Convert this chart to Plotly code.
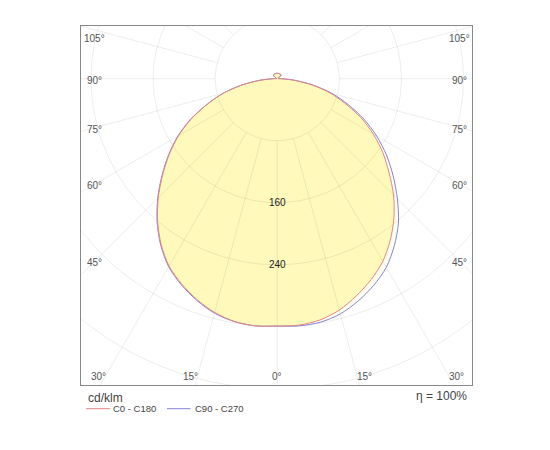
import numpy as np
import plotly.graph_objects as go

# luminous intensity distribution, cd/klm, gamma 0..180 in 5 degree steps
gamma = list(range(0, 185, 5))
c0 = [319, 319, 316, 309, 298, 286, 272, 254, 234, 212, 188, 166, 143, 119, 93, 70, 45, 22, 6,
      2, 1, 1, 1, 1, 2, 4, 6, 7, 7, 7, 7, 7, 7, 7, 7, 7, 7]
c180 = [319, 320, 318, 312, 303, 292, 279, 261, 240, 217, 193, 170, 147, 122, 96, 72, 46, 22, 6,
        2, 1, 1, 1, 1, 2, 4, 6, 7, 7, 7, 7, 7, 7, 7, 7, 7, 7]
c90 = [319, 320, 319, 314, 305, 294, 281, 263, 243, 219, 195, 172, 148, 123, 97, 73, 46, 22, 6,
       2, 1, 1, 1, 1, 2, 4, 6, 7, 7, 7, 7, 7, 7, 7, 7, 7, 7]
c270 = [319, 320, 318, 313, 304, 293, 280, 262, 241, 218, 194, 171, 148, 123, 96, 72, 46, 22, 6,
        2, 1, 1, 1, 1, 2, 4, 6, 7, 7, 7, 7, 7, 7, 7, 7, 7, 7]

grid_radii = [80, 160, 240, 320, 400, 480]
labelled_radii = [160, 240]
side_angles = [105, 90, 75, 60, 45]
bottom_angles = [-30, -15, 0, 15, 30]
efficiency = "η = 100%"
unit = "cd/klm"
series_names = ["C0 - C180", "C90 - C270"]

RED = "#E38787"
BLUE = "#8585D2"
FONT = "Liberation Sans, Arial, sans-serif"

X_RANGE = [-253, 251]
Y_RANGE = [-395, 68]


def plane_curve(right, left):
    """Right half from one C plane, left half from the opposite one (0 deg points down)."""
    g = np.radians(gamma)
    r_right = np.array(right, dtype=float)
    r_left = np.array(left, dtype=float)
    # right half going 0 -> 180, then left half going back 180 -> 0 (skip the shared 180 point)
    g_back = g[::-1][1:]
    r_back = r_left[::-1][1:]
    xs = np.concatenate([r_right * np.sin(g), -r_back * np.sin(g_back)])
    ys = np.concatenate([-r_right * np.cos(g), -r_back * np.cos(g_back)])
    return xs, ys


fig = go.Figure()

red_x, red_y = plane_curve(c0, c180)
blue_x, blue_y = plane_curve(c90, c270)
curve_line = dict(shape="spline", smoothing=0.8)

# fills first
fig.add_trace(go.Scatter(x=blue_x, y=blue_y, mode="lines", fill="toself", fillcolor="#FFFDEE",
                         line=dict(width=0, **curve_line), hoverinfo="skip", showlegend=False))
fig.add_trace(go.Scatter(x=red_x, y=red_y, mode="lines", fill="toself", fillcolor="#FFF9BC",
                         line=dict(width=0, **curve_line), hoverinfo="skip", showlegend=False))

# polar grid: circles, and spokes starting at the innermost circle
t = np.linspace(0, 2 * np.pi, 361)
gx, gy = [], []
for r in grid_radii:
    gx += list(r * np.cos(t)) + [None]
    gy += list(r * np.sin(t)) + [None]
inner = grid_radii[0]
for a in range(0, 360, 15):
    ang = np.radians(a)
    gx += [inner * np.sin(ang), 700 * np.sin(ang), None]
    gy += [-inner * np.cos(ang), -700 * np.cos(ang), None]
fig.add_trace(go.Scatter(x=gx, y=gy, mode="lines", line=dict(color="rgba(0,0,0,0.075)", width=1),
                         hoverinfo="skip", showlegend=False))

# curve outlines
fig.add_trace(go.Scatter(x=blue_x, y=blue_y, mode="lines", line=dict(color=BLUE, width=1, **curve_line),
                         name=series_names[1], showlegend=False))
fig.add_trace(go.Scatter(x=red_x, y=red_y, mode="lines", line=dict(color=RED, width=1, **curve_line),
                         name=series_names[0], showlegend=False))

ann = []
for r in labelled_radii:
    ann.append(dict(x=0, y=-r, text=str(r), showarrow=False, font=dict(size=10, color="#222", family=FONT)))

# angle labels on the left and right edges
label_x = 235
for a in side_angles:
    y = -label_x * np.cos(np.radians(a)) / np.sin(np.radians(a))
    y = min(y, 52)
    for side in (-1, 1):
        ann.append(dict(x=side * label_x, y=y, yshift=-2 if a != 105 else 0, text=f"{a}°", showarrow=False,
                        font=dict(size=10, color="#555", family=FONT)))

# angle labels along the bottom edge
label_y = -384
for a in bottom_angles:
    x = -label_y * np.tan(np.radians(a))
    x = max(min(x, 232), -236)
    shift = 0 if a == 0 else (7 if a > 0 else -7)
    ann.append(dict(x=x, y=label_y, xshift=shift, text=f"{abs(a)}°", showarrow=False,
                    font=dict(size=10, color="#555", family=FONT)))

# texts under the frame
ann.append(dict(x=0.012, y=-0.035, xref="paper", yref="paper", xanchor="left", yanchor="middle",
                text=unit, showarrow=False, font=dict(size=12, color="#444", family=FONT)))
ann.append(dict(x=0.992, y=-0.03, xref="paper", yref="paper", xanchor="right", yanchor="middle",
                text=efficiency, showarrow=False, font=dict(size=12, color="#444", family=FONT)))
ann.append(dict(x=0.078, y=-0.066, xref="paper", yref="paper", xanchor="left", yanchor="middle",
                text=series_names[0], showarrow=False, font=dict(size=9.5, color="#444", family=FONT)))
ann.append(dict(x=0.287, y=-0.066, xref="paper", yref="paper", xanchor="left", yanchor="middle",
                text=series_names[1], showarrow=False, font=dict(size=9.5, color="#444", family=FONT)))

shapes = [
    dict(type="line", xref="paper", yref="paper", x0=0.013, x1=0.074, y0=-0.066, y1=-0.066,
         line=dict(color=RED, width=1)),
    dict(type="line", xref="paper", yref="paper", x0=0.220, x1=0.280, y0=-0.066, y1=-0.066,
         line=dict(color=BLUE, width=1)),
]

fig.update_layout(
    width=550,
    height=450,
    margin=dict(l=73, r=86, t=18, b=73),
    paper_bgcolor="white",
    plot_bgcolor="white",
    showlegend=False,
    annotations=ann,
    shapes=shapes,
    xaxis=dict(range=X_RANGE, showgrid=False, zeroline=False, showticklabels=False, ticks="",
               showline=True, mirror=True, linecolor="#888", linewidth=1, fixedrange=True),
    yaxis=dict(range=Y_RANGE, showgrid=False, zeroline=False, showticklabels=False, ticks="",
               showline=True, mirror=True, linecolor="#888", linewidth=1, fixedrange=True),
)

fig.write_html("out.html")
